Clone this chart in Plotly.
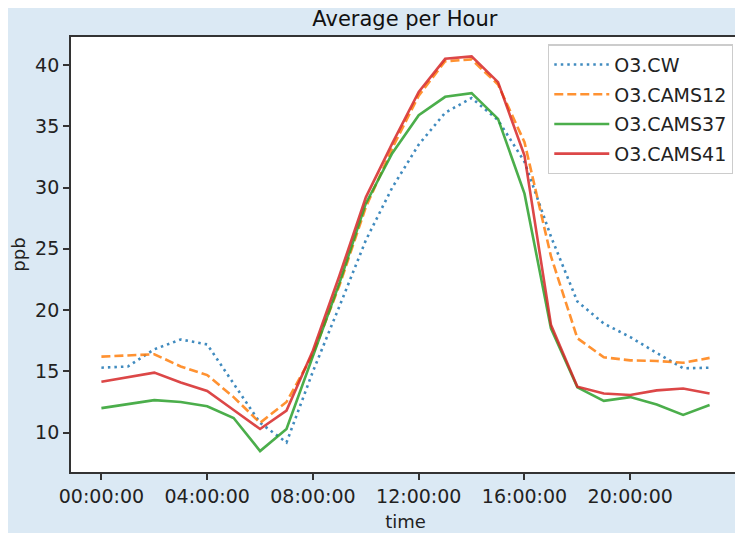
import pandas as pd
import plotly.graph_objects as go

# ---- data (hourly averages, ppb) ----
hours = list(range(24))
o3_cw = [15.3, 15.4, 16.8, 17.6, 17.2, 14.0, 10.8, 9.2, 15.0, 20.3, 25.7, 30.0,
         33.5, 36.1, 37.3, 35.5, 32.1, 26.0, 20.7, 18.9, 17.8, 16.5, 15.25, 15.3]
o3_cams12 = [16.2, 16.3, 16.4, 15.4, 14.7, 12.9, 10.8, 12.5, 16.4, 22.0, 28.4, 33.2,
             37.5, 40.3, 40.45, 38.4, 33.7, 24.4, 17.7, 16.15, 15.9, 15.85, 15.7, 16.1]
o3_cams37 = [12.0, 12.3, 12.65, 12.5, 12.15, 11.2, 8.5, 10.3, 16.2, 22.2, 28.7, 32.8,
             35.9, 37.4, 37.7, 35.6, 29.5, 18.5, 13.7, 12.6, 12.9, 12.3, 11.45, 12.25]
o3_cams41 = [14.15, 14.5, 14.9, 14.1, 13.4, 11.85, 10.3, 11.8, 16.7, 22.8, 29.2, 33.6,
             37.8, 40.5, 40.7, 38.6, 32.6, 18.8, 13.75, 13.2, 13.07, 13.45, 13.6, 13.2]
series_names = ["O3.CW", "O3.CAMS12", "O3.CAMS37", "O3.CAMS41"]
tick_hours = [0, 4, 8, 12, 16, 20]

base = pd.Timestamp("2000-01-01")
times = [base + pd.Timedelta(hours=h) for h in hours]
tick_times = [base + pd.Timedelta(hours=h) for h in tick_hours]

styles = [
    dict(color="#1f77b4", dash="2.5px,4px"),
    dict(color="#ff7f0e", dash="9px,4px"),
    dict(color="#2ca02c", dash="solid"),
    dict(color="#d62728", dash="solid"),
]

fig = go.Figure()
for i, (name, vals, st) in enumerate(zip(series_names, [o3_cw, o3_cams12, o3_cams37, o3_cams41], styles)):
    fig.add_trace(go.Scatter(
        x=times, y=vals, mode="lines", name=name, opacity=0.85, legendgroup=f"g{i}",
        line=dict(color=st["color"], dash=st["dash"], width=2.6),
    ))

font_family = "DejaVu Sans"
span = 23
x0 = base - pd.Timedelta(hours=0.05 * span)
x1 = base + pd.Timedelta(hours=span + 0.05 * span)

fig.update_layout(
    width=735, height=525,
    margin=dict(l=63, r=3, t=29, b=61),
    paper_bgcolor="#dbe9f4",
    plot_bgcolor="white",
    font=dict(family=font_family, color="#222", size=17),
    title=dict(text="Average per Hour", x=0.540, xanchor="center", y=0.979, yanchor="middle",
               font=dict(size=21, color="#111")),
    showlegend=True,
    legend=dict(x=0.9895, xanchor="right", y=0.983, yanchor="top",
                bgcolor="rgba(255,255,255,0.9)", bordercolor="#cccccc", borderwidth=1.3,
                font=dict(size=19, color="#222"), tracegroupgap=2, itemwidth=55),
)
fig.update_xaxes(
    range=[x0, x1], tickvals=tick_times, tickformat="%H:%M:%S",
    showgrid=False, zeroline=False, automargin=False,
    showline=True, mirror=True, linecolor="#333", linewidth=1.8,
    ticks="outside", ticklen=6, tickwidth=1.5, tickcolor="#333",
    tickfont=dict(size=19, color="#222"),
    title=dict(text="time", font=dict(size=18, color="#222"), standoff=10),
)
fig.update_yaxes(
    range=[6.79, 42.28], dtick=5, tick0=10,
    showgrid=False, zeroline=False, automargin=False,
    showline=True, mirror=True, linecolor="#333", linewidth=1.8,
    ticks="outside", ticklen=6, tickwidth=1.5, tickcolor="#333",
    tickfont=dict(size=19, color="#222"),
    title=dict(text="ppb", font=dict(size=18, color="#222"), standoff=14),
)

fig.write_html("out.html")
